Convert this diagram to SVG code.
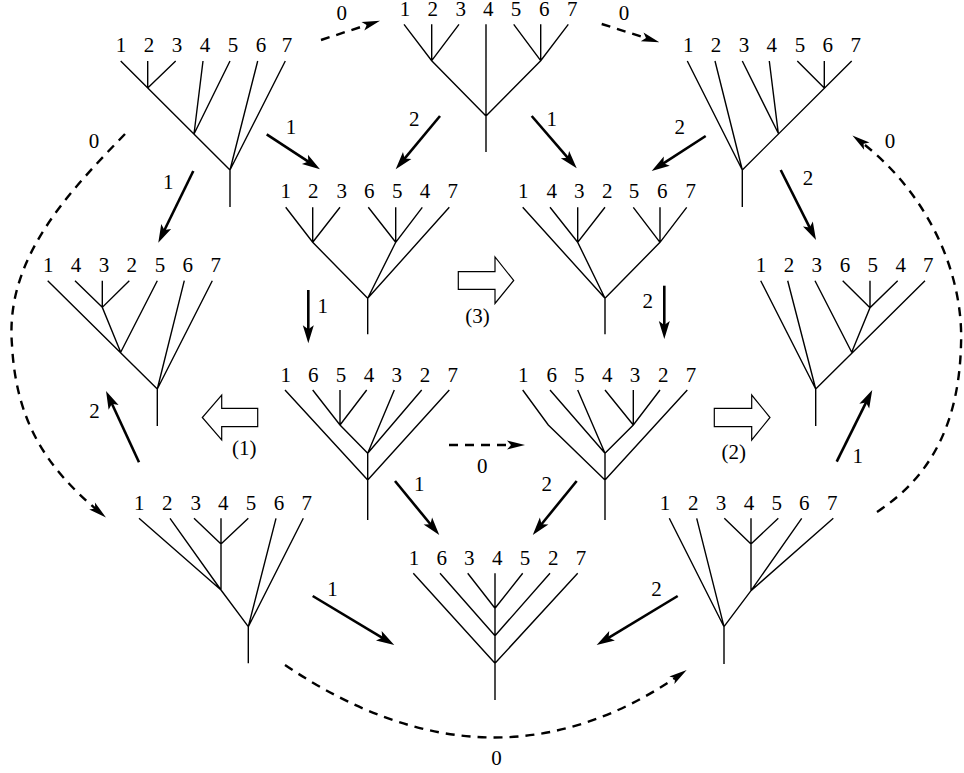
<svg xmlns="http://www.w3.org/2000/svg" width="964" height="773" viewBox="0 0 964 773">
<style>
.e{fill:none;stroke:#000;stroke-width:1.4}
.a{fill:none;stroke:#000;stroke-width:2.6;marker-end:url(#hs)}
.d{fill:none;stroke:#000;stroke-width:2.4;stroke-dasharray:9 7;marker-end:url(#hd)}
.b{fill:#fff;stroke:#000;stroke-width:1.2}
text{font-family:"Liberation Serif","Times New Roman",serif;font-size:21px;text-anchor:middle;fill:#000}
</style>
<defs>
<marker id="hs" markerUnits="userSpaceOnUse" viewBox="-12 -8 24 16" refX="0" refY="0" markerWidth="24" markerHeight="16" orient="auto" overflow="visible">
<path d="M8,0 L-10,-5.5 L-6,0 L-10,5.5 Z" fill="#000"/>
</marker>
<marker id="hd" markerUnits="userSpaceOnUse" viewBox="-12 -8 24 16" refX="0" refY="0" markerWidth="24" markerHeight="16" orient="auto" overflow="visible">
<path d="M8,0 L-10,-4.5 L-6,0 L-10,4.5 Z" fill="#000"/>
</marker>
</defs>
<rect width="964" height="773" fill="#fff"/>

<g id="tA">
<path class="e" d="M120.7,61 L230,170 M147.7,61 L147.7,88 M175.7,61 L147.7,88 M203,61 L194,134 M230,61 L194,134 M257.7,61 L230,170 M285.3,61 L230,170 M230,170 L230,207"/>
<text x="121" y="52.3">1</text><text x="149" y="52.3">2</text><text x="177" y="52.3">3</text><text x="205" y="52.3">4</text><text x="233" y="52.3">5</text><text x="261" y="52.3">6</text><text x="287" y="52.3">7</text>
</g>
<g id="tB">
<path class="e" d="M404,24.3 L431.7,60.7 L486,116 M431.7,24.3 L431.7,60.7 M459,24.3 L431.7,60.7 M486,24.3 L486,152 M513.7,24.3 L540.7,60.7 M540.7,24.3 L540.7,60.7 M568.3,24.3 L540.7,60.7 L486,116"/>
<text x="405" y="16">1</text><text x="432.7" y="16">2</text><text x="460.7" y="16">3</text><text x="488.3" y="16">4</text><text x="516" y="16">5</text><text x="544.3" y="16">6</text><text x="572.3" y="16">7</text>
</g>
<g id="tC">
<path class="e" d="M687.3,61 L742.3,170 M715,61 L742.3,170 M742.3,61 L778.3,133.3 M769.3,61 L778.3,133.3 M797.3,61 L824.3,88 M824.3,61 L824.3,88 M851.7,61 L742.3,170 M742.3,170 L742.3,207"/>
<text x="688.3" y="52">1</text><text x="716" y="52">2</text><text x="744" y="52">3</text><text x="771.7" y="52">4</text><text x="800" y="52">5</text><text x="827.7" y="52">6</text><text x="855.7" y="52">7</text>
</g>
<g id="tD">
<path class="e" d="M285.7,207.3 L312.7,242.3 L367.7,298.3 M312.7,207.3 L312.7,242.3 M340,207.3 L312.7,242.3 M368.3,207.3 L395.7,242.3 M395.7,207.3 L395.7,242.3 M422.3,207.3 L395.7,242.3 L367.7,298.3 M449.3,207.3 L367.7,298.3 M367.7,298.3 L367.7,334.3"/>
<text x="285.7" y="198.3">1</text><text x="313.3" y="198.3">2</text><text x="341.7" y="198.3">3</text><text x="369.3" y="198.3">6</text><text x="397.3" y="198.3">5</text><text x="425" y="198.3">4</text><text x="452.7" y="198.3">7</text>
</g>
<g id="tE">
<path class="e" d="M522.7,207.3 L605,298.3 M550,207.3 L577.7,242.3 M577.7,207.3 L577.7,242.3 M605,207.3 L577.7,242.3 L605,298.3 M633.3,207.3 L660,242.3 M660,207.3 L660,242.3 M686.7,207.3 L660,242.3 L605,298.3 M605,298.3 L605,334.3"/>
<text x="523.3" y="198.3">1</text><text x="551.7" y="198.3">4</text><text x="579.3" y="198.3">3</text><text x="607.3" y="198.3">2</text><text x="634" y="198.3">5</text><text x="662.3" y="198.3">6</text><text x="690.7" y="198.3">7</text>
</g>
<g id="tF">
<path class="e" d="M47.7,280.7 L157.3,389 M75,280.7 L102.3,307.3 M102.3,280.7 L102.3,307.3 M129.3,280.7 L102.3,307.3 L120.7,352.3 M157.3,280.7 L120.7,352.3 M184.3,280.7 L157.3,389 M212.3,280.7 L157.3,389 M157.3,389 L157.3,426"/>
<text x="48.3" y="271.7">1</text><text x="76" y="271.7">4</text><text x="104" y="271.7">3</text><text x="131.7" y="271.7">2</text><text x="160" y="271.7">5</text><text x="187.7" y="271.7">6</text><text x="215.7" y="271.7">7</text>
</g>
<g id="tG">
<path class="e" d="M760.7,280.7 L815.7,389 M787.7,280.7 L815.7,389 M815,280.7 L851.7,352.3 M842.7,280.7 L870,307.7 M870,280.7 L870,307.7 M897.7,280.7 L870,307.7 L851.7,352.3 M925,280.7 L815.7,389 M815.7,389 L815.7,426"/>
<text x="761" y="271.7">1</text><text x="789" y="271.7">2</text><text x="816.7" y="271.7">3</text><text x="845" y="271.7">6</text><text x="872.7" y="271.7">5</text><text x="900.7" y="271.7">4</text><text x="928.3" y="271.7">7</text>
</g>
<g id="tH">
<path class="e" d="M285,390 L367.7,480 M312.7,390 L340,425 L367.7,453.3 M340,390 L340,425 M366.7,390 L340,425 M394.3,390 L367.7,453.3 M421.7,390 L367.7,453.3 M367.7,453.3 L367.7,520 M449.3,390 L367.7,480"/>
<text x="285.7" y="381.7">1</text><text x="313.3" y="381.7">6</text><text x="341" y="381.7">5</text><text x="369" y="381.7">4</text><text x="396.7" y="381.7">3</text><text x="425" y="381.7">2</text><text x="452.7" y="381.7">7</text>
</g>
<g id="tI">
<path class="e" d="M522.7,390 L548.3,425 L605,480 M550,390 L605,453.3 M577.7,390 L605,453.3 M605,390 L633.3,425 M633.3,390 L633.3,425 M660,390 L633.3,425 L605,453.3 M605,453.3 L605,520 M687.3,390 L605,480"/>
<text x="523.3" y="381.7">1</text><text x="551.7" y="381.7">6</text><text x="579.3" y="381.7">5</text><text x="607.3" y="381.7">4</text><text x="635" y="381.7">3</text><text x="663.3" y="381.7">2</text><text x="691" y="381.7">7</text>
</g>
<g id="tJ">
<path class="e" d="M139,518.3 L221,590 M170,518.3 L221,590 M194,518.3 L221,544 M221,518.3 L221,590 M248.3,518.3 L221,544 M221,590 L248.3,626.7 M276,518.3 L248.3,626.7 M303.3,518.3 L248.3,626.7 M248.3,626.7 L248.3,663.3"/>
<text x="139.3" y="510">1</text><text x="167.3" y="510">2</text><text x="195.7" y="510">3</text><text x="223.3" y="510">4</text><text x="251" y="510">5</text><text x="279" y="510">6</text><text x="306.7" y="510">7</text>
</g>
<g id="tK">
<path class="e" d="M413.3,573.3 L495,663.3 M440,573.3 L495,635.7 M467.7,573.3 L495,608.3 M495,573.3 L495,700 M522.7,573.3 L495,608.3 M550,573.3 L495,635.7 M577.7,573.3 L495,663.3"/>
<text x="414" y="565">1</text><text x="441.7" y="565">6</text><text x="469.3" y="565">3</text><text x="497.3" y="565">4</text><text x="525" y="565">5</text><text x="553.3" y="565">2</text><text x="581" y="565">7</text>
</g>
<g id="tL">
<path class="e" d="M669.3,518.3 L724,626.7 M696.7,518.3 L724,626.7 M724.3,518.3 L751,544 M751,518.3 L751,590.7 M778.3,518.3 L751,544 M801.7,518.3 L751,590.7 M833.3,518.3 L751,590.7 L724,626.7 M724,626.7 L724,664"/>
<text x="665" y="510">1</text><text x="693.3" y="510">2</text><text x="721" y="510">3</text><text x="749" y="510">4</text><text x="776.7" y="510">5</text><text x="804.3" y="510">6</text><text x="832.3" y="510">7</text>
</g>

<g id="connectors">
<path class="a" d="M266.7,134.3 L313.3,164.9"/>
<path class="a" d="M193.3,171 L161.8,235.5"/>
<path class="a" d="M440,116 L400.8,163.1"/>
<path class="a" d="M531.7,116 L571.5,162.2"/>
<path class="a" d="M705.7,136 L658.4,166.6"/>
<path class="a" d="M780.7,170 L812.4,232.9"/>
<path class="a" d="M308.3,290 L308.3,335.3"/>
<path class="a" d="M664.3,285.7 L664.3,331"/>
<path class="a" d="M139,462.3 L109.4,398.3"/>
<path class="a" d="M836.7,461.7 L868.7,397.2"/>
<path class="a" d="M395,481 L434.2,528.8"/>
<path class="a" d="M576.7,481 L537.8,528.8"/>
<path class="a" d="M312.7,596 L387.4,640.9"/>
<path class="a" d="M677.7,596 L603.5,640.9"/>
<path class="d" d="M321,40 L372.4,23.2"/>
<path class="d" d="M601.7,24 L651.7,39.9"/>
<path class="d" d="M449,445 L517,445"/>
<path class="d" d="M125,134 C65,196 5,260 12,345 C16,420 45,467 99.8,512.3"/>
<path class="d" d="M877,512 C932,476 959,422 961,345 C964,270 925,190 858.8,140.2"/>
<path class="d" d="M285,665 Q492,805 680.1,674.6"/>
<polygon class="b" points="458.3,271.7 495,271.7 495,257 513.7,280.5 495,303.5 495,289.3 458.3,289.3"/>
<polygon class="b" points="257.7,408.3 221.7,408.3 221.7,395 202.3,417.5 221.7,440 221.7,426.7 257.7,426.7"/>
<polygon class="b" points="714.3,408.3 751.7,408.3 751.7,395 770,417.5 751.7,440 751.7,426.7 714.3,426.7"/>
<text x="291" y="134">1</text>
<text x="168.3" y="189">1</text>
<text x="94" y="148.3">0</text>
<text x="414.3" y="125.7">2</text>
<text x="551.7" y="125.7">1</text>
<text x="341.7" y="20">0</text>
<text x="624" y="20">0</text>
<text x="679.7" y="134.3">2</text>
<text x="808" y="185">2</text>
<text x="890" y="147.7">0</text>
<text x="322.8" y="312.7">1</text>
<text x="647.8" y="308.3">2</text>
<text x="477.6" y="322.5">(3)</text>
<text x="94.5" y="417.7">2</text>
<text x="244.2" y="455">(1)</text>
<text x="733.7" y="459.3">(2)</text>
<text x="857.8" y="462.7">1</text>
<text x="482.2" y="473.3">0</text>
<text x="419.2" y="490.7">1</text>
<text x="546.8" y="490.7">2</text>
<text x="332.5" y="596">1</text>
<text x="656.5" y="596">2</text>
<text x="496.5" y="765">0</text>
</g>
</svg>
